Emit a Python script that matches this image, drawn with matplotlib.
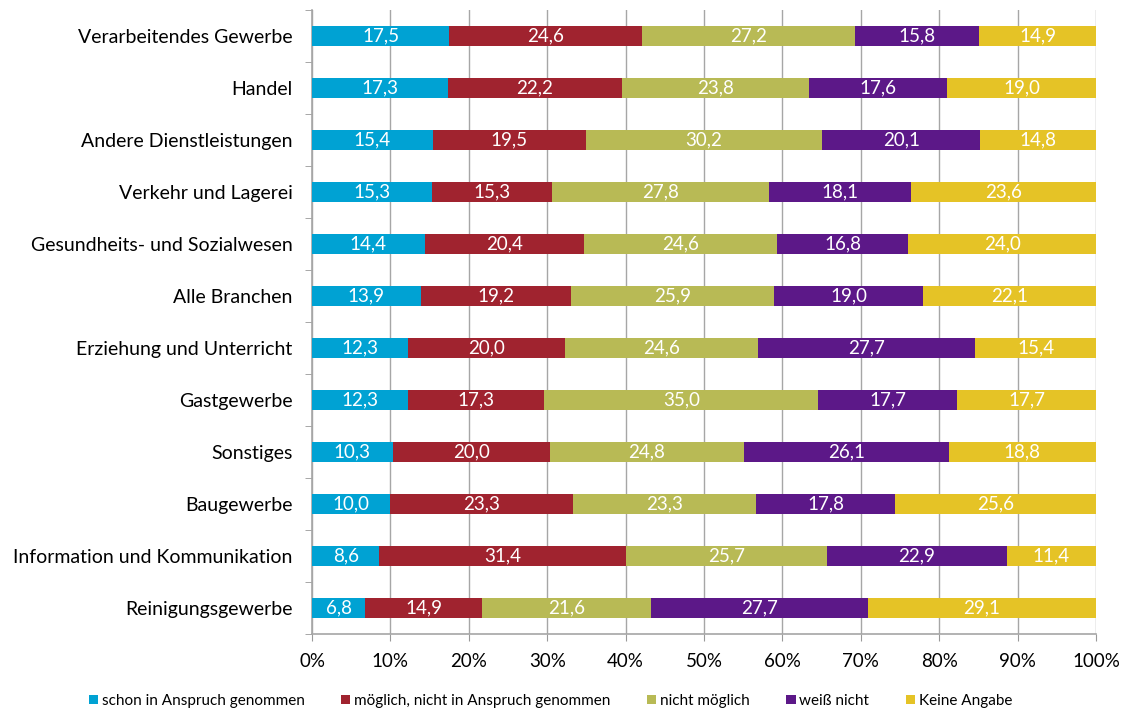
import matplotlib
matplotlib.use("Agg")
import matplotlib.pyplot as plt
import numpy as np

plt.rcParams['font.family'] = ['Lato', 'DejaVu Sans']

categories = ["Verarbeitendes Gewerbe", "Handel", "Andere Dienstleistungen",
              "Verkehr und Lagerei", "Gesundheits- und Sozialwesen", "Alle Branchen",
              "Erziehung und Unterricht", "Gastgewerbe", "Sonstiges", "Baugewerbe",
              "Information und Kommunikation", "Reinigungsgewerbe"]
series_names = ["schon in Anspruch genommen", "möglich, nicht in Anspruch genommen",
                "nicht möglich", "weiß nicht", "Keine Angabe"]
schon = [17.5, 17.3, 15.4, 15.3, 14.4, 13.9, 12.3, 12.3, 10.3, 10.0, 8.6, 6.8]
moeglich = [24.6, 22.2, 19.5, 15.3, 20.4, 19.2, 20.0, 17.3, 20.0, 23.3, 31.4, 14.9]
nicht_moeglich = [27.2, 23.8, 30.2, 27.8, 24.6, 25.9, 24.6, 35.0, 24.8, 23.3, 25.7, 21.6]
weiss_nicht = [15.8, 17.6, 20.1, 18.1, 16.8, 19.0, 27.7, 17.7, 26.1, 17.8, 22.9, 27.7]
keine_angabe = [14.9, 19.0, 14.8, 23.6, 24.0, 22.1, 15.4, 17.7, 18.8, 25.6, 11.4, 29.1]
colors = ["#00A2D3", "#A0232F", "#B8BA55", "#5C1888", "#E5C326"]

data = np.array([schon, moeglich, nicht_moeglich, weiss_nicht, keine_angabe])
totals = data.sum(axis=0)
shares = data / totals * 100

fig = plt.figure(figsize=(11.28, 7.11), dpi=100)
ax = fig.add_axes([312/1128, 1-634/711, (1096-312)/1128, (634-10)/711])

y = np.arange(len(categories))
left = np.zeros(len(categories))
for i, name in enumerate(series_names):
    bars = ax.barh(y, shares[i], left=left, height=0.385, color=colors[i], label=name, zorder=3)
    for j, b in enumerate(bars):
        ax.text(left[j] + shares[i][j] / 2, y[j], f"{data[i][j]:.1f}".replace('.', ','),
                ha='center', va='center', color='white', fontsize=13.5, zorder=4)
    left += shares[i]

ax.set_xlim(0, 100)
ax.set_ylim(len(categories) - 0.5, -0.5)
ax.set_xticks(np.arange(0, 101, 10))
ax.set_xticklabels([f"{v}%" for v in range(0, 101, 10)], fontsize=13.5)
ax.set_yticks(y)
ax.set_yticklabels(categories, fontsize=14)
ax.set_yticks(np.arange(-0.5, len(categories), 1), minor=True)
ax.tick_params(axis='y', which='major', length=0, pad=14)
ax.tick_params(axis='y', which='minor', length=5, color='#999999', direction='out')
ax.tick_params(axis='x', length=5, color='#999999', direction='out', pad=9)
ax.grid(axis='x', color='#A6A6A6', linewidth=1, zorder=0)
for s in ['top', 'right']:
    ax.spines[s].set_visible(False)
for s in ['left', 'bottom']:
    ax.spines[s].set_color('#A6A6A6')
    ax.spines[s].set_linewidth(1.2)

fig.legend(loc='lower center', bbox_to_anchor=(0.488, -0.015), ncol=5, frameon=False,
           fontsize=11, handlelength=0.6, handleheight=0.6, handletextpad=0.25,
           columnspacing=2.4)

fig.savefig("out.png", dpi=100)
